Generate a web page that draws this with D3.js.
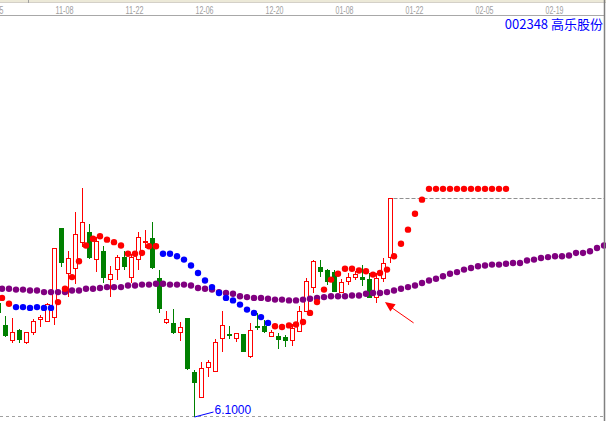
<!DOCTYPE html>
<html><head><meta charset="utf-8">
<script src="https://cdn.jsdelivr.net/npm/d3@7/dist/d3.min.js"></script>
<style>
html,body{margin:0;padding:0;background:#fff;overflow:hidden}
svg{display:block}
</style></head><body>
<svg id="c" width="606" height="421"></svg>
<script>
// ---- data (candle index -1 .. 55) ----
const firstIndex = -1;
const opens  = [7.47,7.20,7.02,7.14,7.00,7.11,7.27,7.25,7.30,8.37,7.82,7.88,8.20,8.32,7.99,8.09,7.75,7.87,8.02,7.78,7.99,8.19,8.25,7.77,7.23,7.23,7.12,7.29,6.64,6.34,6.69,6.65,7.04,7.10,7.04,7.10,6.83,7.19,7.19,7.07,7.07,7.06,7.02,7.13,7.37,7.66,7.90,7.87,7.84,7.60,7.73,7.78,7.78,7.76,7.54,7.76,8.01];
const highs  = [7.51,7.31,7.29,7.16,7.11,7.28,7.33,7.47,8.12,8.37,8.09,8.56,8.85,8.42,8.26,8.15,7.91,8.05,8.09,8.06,8.32,8.35,8.44,7.87,7.37,7.40,7.24,7.29,6.66,6.76,6.78,7.04,7.37,7.19,7.11,7.10,7.23,7.35,7.27,7.14,7.11,7.08,7.22,7.43,7.77,7.99,7.99,7.88,7.87,7.76,7.83,7.85,7.93,7.83,7.83,8.01,8.73];
const lows   = [7.31,7.06,6.99,6.99,6.98,7.08,7.18,7.24,7.20,7.90,7.54,7.70,8.14,8.00,7.84,7.71,7.54,7.75,7.87,7.71,7.87,8.13,7.88,7.35,7.22,7.10,7.01,6.66,6.10,6.34,6.58,6.65,6.88,7.04,7.00,6.88,6.81,7.14,7.11,7.06,6.92,6.94,6.95,7.13,7.36,7.59,7.78,7.69,7.60,7.60,7.69,7.75,7.67,7.53,7.47,7.72,7.95];
const closes = [7.35,7.07,7.11,7.02,7.11,7.25,7.30,7.45,8.12,7.95,8.00,8.29,8.43,8.01,8.21,7.77,7.81,8.01,7.90,8.01,8.26,8.21,7.89,7.40,7.27,7.11,7.18,6.68,6.51,6.68,6.75,7.00,7.20,7.07,7.10,6.88,7.14,7.17,7.12,7.11,7.02,7.01,7.16,7.37,7.73,7.97,7.84,7.72,7.60,7.72,7.77,7.81,7.75,7.53,7.76,7.94,8.73];
// moving average dots (index 0 .. 86)
const maValues = [7.64,7.64,7.63,7.63,7.62,7.62,7.60,7.60,7.60,7.60,7.62,7.62,7.64,7.64,7.65,7.66,7.66,7.66,7.68,7.68,
  7.69,7.69,7.70,7.70,7.69,7.69,7.69,7.68,7.65,7.64,7.63,7.60,7.59,7.58,7.55,7.54,7.53,7.53,7.52,7.51,
  7.51,7.50,7.50,7.51,7.52,7.53,7.54,7.55,7.55,7.55,7.56,7.56,7.58,7.59,7.59,7.60,7.62,7.64,7.66,7.68,
  7.71,7.74,7.76,7.79,7.82,7.84,7.87,7.89,7.91,7.92,7.93,7.93,7.94,7.95,7.95,7.98,7.99,8.01,8.02,8.03,
  8.03,8.04,8.07,8.07,8.09,8.13,8.16];
// stop-and-reverse style dots (index 0 .. 72)
const sarValues = [7.53,7.46,7.42,7.42,7.41,7.42,7.41,7.41,7.48,7.64,7.78,7.97,8.16,8.24,8.27,8.23,8.20,8.16,8.06,8.06,
  8.07,8.15,8.15,8.06,8.06,8.03,7.99,7.92,7.83,7.74,7.66,7.59,7.53,7.50,7.45,7.39,7.35,7.30,7.23,7.19,
  7.18,7.20,7.21,7.24,7.35,7.48,7.63,7.75,7.82,7.88,7.88,7.86,7.85,7.81,7.83,7.87,8.03,8.18,8.35,8.54,
  8.71,8.84,8.84,8.84,8.84,8.84,8.84,8.84,8.84,8.84,8.84,8.84,8.84];
const sarSide = ["R","R","B","B","B","B","B","B","R","R","R","R","R","R","R","R","R","R","R","R",
  "R","R","R","B","B","B","B","B","B","B","B","B","B","B","B","B","B","B","B","R",
  "R","R","R","R","R","R","R","R","R","R","R","R","R","R","R","R","R","R","R","R",
  "R","R","R","R","R","R","R","R","R","R","R","R","R"];
const tickIndex  = [-2, 8, 18, 28, 38, 48, 58, 68, 78];
const tickLabels = ["10-25","11-08","11-22","12-06","12-20","01-08","01-22","02-05","02-19"];
const titleText = "002348 高乐股份";
const lowIndex = 27, lowPrice = 6.10, lowText = "6.1000";
const arrowFrom = [58.3, 7.23], arrowTo = [54.2, 7.48];

// ---- drawing ----
const svg = d3.select("#c");
const W = 606, H = 421;
const x = d3.scaleLinear().domain([0, 1]).range([5.5, 12.5]);
const y = d3.scaleLinear().domain([6.10, 8.73]).range([417, 198]);

const candles = opens.map((o, k) => ({i: k + firstIndex, o, h: highs[k], l: lows[k], c: closes[k]}));

svg.append("rect").attr("width", W).attr("height", H).attr("fill", "#fff");

// header strip
svg.append("rect").attr("x",0).attr("y",0).attr("width",W).attr("height",2).attr("fill","#ece9d8");
svg.append("line").attr("x1",0).attr("x2",W).attr("y1",2.5).attr("y2",2.5).attr("stroke","#d4d0c8");
svg.append("line").attr("x1",28.5).attr("x2",28.5).attr("y1",0).attr("y2",3).attr("stroke","#a0a0a0");
svg.append("line").attr("x1",0).attr("x2",604).attr("y1",15.5).attr("y2",15.5).attr("stroke","#a8a8a8");

svg.append("g").selectAll("text").data(tickIndex).join("text")
  .attr("x", d => x(d) + 3).attr("y", 14)
  .attr("text-anchor","middle")
  .attr("font-family","Liberation Sans, Arial, sans-serif").attr("font-size", 10)
  .attr("textLength", 18).attr("lengthAdjust","spacingAndGlyphs")
  .attr("fill","#a0a0a0")
  .text((d, k) => tickLabels[k]);

// title
svg.append("text").attr("x", 603).attr("y", 29).attr("text-anchor","end")
  .attr("font-family","Noto Sans CJK SC, sans-serif").attr("font-size", 13)
  .attr("fill","#0000ff").text(titleText);

// low dashed line
svg.append("line").attr("x1",0).attr("x2",604)
  .attr("y1", Math.round(y(lowPrice)) - 0.5).attr("y2", Math.round(y(lowPrice)) - 0.5)
  .attr("stroke","#a0a0a0").attr("stroke-dasharray","3,3");

// last close dashed line
const last = candles[candles.length - 1];
svg.append("line").attr("x1", x(last.i) + 3).attr("x2", 604)
  .attr("y1", Math.round(y(last.c)) + 0.5).attr("y2", Math.round(y(last.c)) + 0.5)
  .attr("stroke","#909090").attr("stroke-dasharray","4,2");

// candles
const g = svg.append("g").attr("shape-rendering","crispEdges");
const up = d => d.c >= d.o;
g.selectAll("line.w").data(candles).join("line").attr("class","w")
  .attr("x1", d => x(d.i)).attr("x2", d => x(d.i))
  .attr("y1", d => y(d.h)).attr("y2", d => y(d.l))
  .attr("stroke", d => up(d) ? "#ff0000" : "#008000");
g.selectAll("rect.b").data(candles).join("rect").attr("class","b")
  .attr("x", d => up(d) ? x(d.i) - 2 : x(d.i) - 2.5)
  .attr("width", d => up(d) ? 4 : 5)
  .attr("y", d => y(Math.max(d.o, d.c)))
  .attr("height", d => Math.max(up(d) ? 0.01 : 1, Math.abs(y(d.o) - y(d.c))))
  .attr("fill", d => up(d) ? "#fff" : "#008000")
  .attr("stroke", d => up(d) ? "#ff0000" : "none");

// moving average dots
svg.append("g").selectAll("circle").data(maValues).join("circle")
  .attr("cx", (d, k) => x(k) - 3.5).attr("cy", d => y(d)).attr("r", 3.2)
  .attr("fill", "#800080");

// SAR dots
svg.append("g").selectAll("circle").data(sarValues).join("circle")
  .attr("cx", (d, k) => x(k) - 3.5).attr("cy", d => y(d)).attr("r", 3.2)
  .attr("fill", (d, k) => sarSide[k] === "R" ? "#ff0000" : "#0000ff");

// low marker
const lx = x(lowIndex), ly = y(lowPrice);
svg.append("line").attr("x1", lx).attr("y1", ly).attr("x2", lx + 19).attr("y2", ly - 5)
  .attr("stroke","#0000ff").attr("stroke-width",1);
svg.append("text").attr("x", lx + 20).attr("y", ly - 3)
  .attr("font-family","Liberation Sans, Arial, sans-serif").attr("font-size", 12)
  .attr("fill","#0000ff").text(lowText);

// arrow annotation
const ax1 = x(arrowFrom[0]), ay1 = y(arrowFrom[1]), ax2 = x(arrowTo[0]), ay2 = y(arrowTo[1]);
svg.append("line").attr("x1", ax1).attr("y1", ay1).attr("x2", ax2 + 6).attr("y2", ay2 + 5)
  .attr("stroke","#ff0000").attr("stroke-width",1);
const ang = Math.atan2(ay2 - ay1, ax2 - ax1);
const hl = 10, hw = 4.5;
const bx = ax2 - hl * Math.cos(ang), by = ay2 - hl * Math.sin(ang);
svg.append("path")
  .attr("d", `M${ax2},${ay2}L${bx + hw*Math.sin(ang)},${by - hw*Math.cos(ang)}L${bx - hw*Math.sin(ang)},${by + hw*Math.cos(ang)}Z`)
  .attr("fill","#ff0000");

// right border
svg.append("line").attr("x1",604.5).attr("x2",604.5).attr("y1",0).attr("y2",H).attr("stroke","#808080").attr("stroke-width",1.5);
</script>
</body></html>
